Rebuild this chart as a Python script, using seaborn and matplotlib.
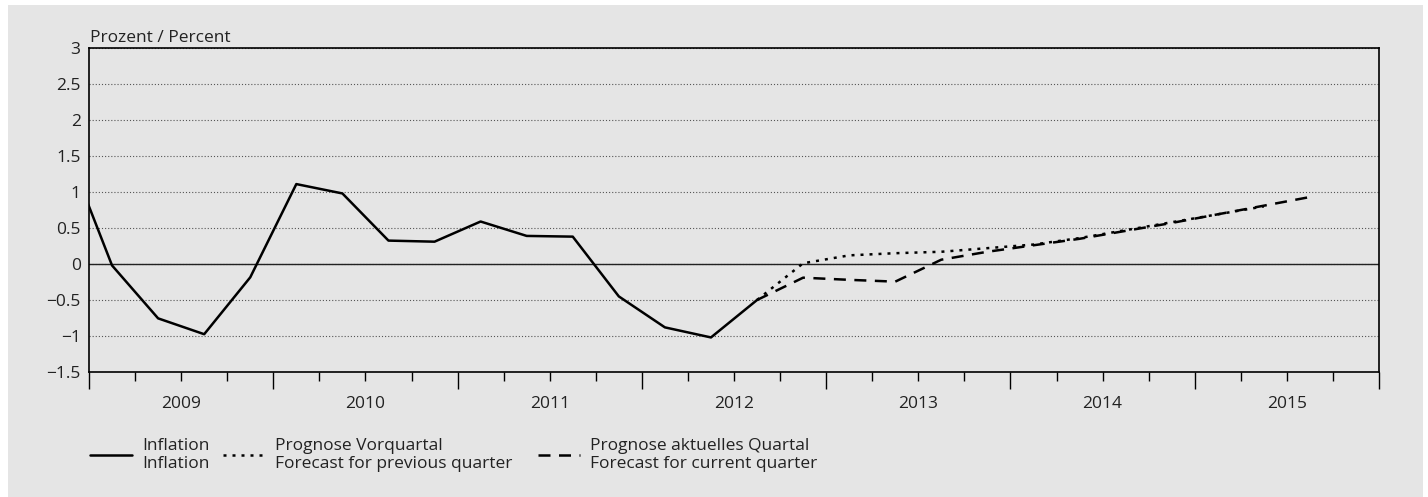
# Inflation chart with two forecast paths (quarterly, percent)
import numpy as np
import pandas as pd
import matplotlib
matplotlib.use("Agg")
import matplotlib.pyplot as plt
from matplotlib.patches import Rectangle
import seaborn as sns

# quarterly values
infl_start = "2008Q4"
infl_values = [1.62, -0.02, -0.755, -0.975, -0.185, 1.11, 0.98, 0.325, 0.31,
               0.59, 0.39, 0.38, -0.45, -0.88, -1.02, -0.5]

prev_start = "2012Q3"
prev_values = [-0.5, 0.01, 0.12, 0.15, 0.17, 0.22, 0.27, 0.36, 0.47, 0.58, 0.69, 0.80]

curr_start = "2012Q3"
curr_values = [-0.5, -0.19, -0.22, -0.245, 0.06, 0.17, 0.26, 0.35, 0.46, 0.57,
               0.69, 0.81, 0.93]

years = [2009, 2010, 2011, 2012, 2013, 2014, 2015]
y_ticks = [3, 2.5, 2, 1.5, 1, 0.5, 0, -0.5, -1, -1.5]

labels = ["Inflation\nInflation",
          "Prognose Vorquartal\nForecast for previous quarter",
          "Prognose aktuelles Quartal\nForecast for current quarter"]


def quarter_frame(start, values):
    # place each quarter at its middle on a year axis
    p = pd.period_range(start=start, periods=len(values), freq="Q")
    return pd.DataFrame({"pos": p.year + (p.quarter - 0.5) / 4, "value": values})


df_infl = quarter_frame(infl_start, infl_values)
df_prev = quarter_frame(prev_start, prev_values)
df_curr = quarter_frame(curr_start, curr_values)

sns.set_theme(style="white")
plt.rcParams["font.family"] = ["Open Sans", "DejaVu Sans"]
plt.rcParams["axes.unicode_minus"] = True

bg = "#e5e5e5"
txt = "#222222"
fs = 12.5
fig = plt.figure(figsize=(14.28, 4.97), dpi=100, facecolor="white")
fig.patches.append(Rectangle((8 / 1428, 0), (1423 - 8) / 1428, 492 / 497,
                             transform=fig.transFigure, facecolor=bg,
                             edgecolor="none", zorder=-10))
ax = fig.add_axes([89 / 1428, 1 - 372 / 497, (1379 - 89) / 1428, 324 / 497])
ax.set_facecolor(bg)

# grid and zero line
ax.set_yticks(y_ticks)
ax.set_yticklabels([("%g" % v).replace("-", "\u2212") for v in y_ticks])
ax.grid(axis="y", color="#555555", linestyle=(0, (1, 1.8)), linewidth=0.8)
ax.grid(axis="x", visible=False)
ax.axhline(0, color="#222222", linewidth=1.0, zorder=2)

# series
sns.lineplot(data=df_infl, x="pos", y="value", ax=ax, color="black",
             linewidth=1.8, label=labels[0], sort=False, estimator=None, zorder=5)
sns.lineplot(data=df_prev, x="pos", y="value", ax=ax, color="black",
             linewidth=1.8, linestyle=(0, (1.2, 2.4)), label=labels[1],
             sort=False, estimator=None, zorder=4)
sns.lineplot(data=df_curr, x="pos", y="value", ax=ax, color="black",
             linewidth=1.8, linestyle=(0, (4.8, 3.4)), label=labels[2],
             sort=False, estimator=None, zorder=4)

handles, leg_labels = ax.get_legend_handles_labels()
if ax.get_legend() is not None:
    ax.get_legend().remove()

ax.set_xlim(years[0], years[-1] + 1)
ax.set_ylim(-1.5, 3)
ax.set_xlabel("")
ax.set_ylabel("")

# x ticks: long at year boundaries, short at quarters
ax.xaxis.remove_overlapping_locs = False
ax.set_xticks(np.arange(years[0], years[-1] + 2))
ax.set_xticks([y + q / 4 for y in years for q in (1, 2, 3)], minor=True)
ax.tick_params(axis="x", which="both", bottom=True, top=False,
               direction="out", color="black", width=1, labelbottom=False)
ax.tick_params(axis="x", which="major", length=12.5)
ax.tick_params(axis="x", which="minor", length=6.5)
ax.tick_params(axis="y", length=0, pad=6, labelsize=fs, labelcolor=txt)

for y in years:
    ax.text(y + 0.5, -0.099, str(y), transform=ax.get_xaxis_transform(),
            ha="center", va="center", fontsize=fs, color=txt)

for s in ax.spines.values():
    s.set_visible(True)
    s.set_color("black")
    s.set_linewidth(1.2)

ax.text(0.001, 1.006, "Prozent / Percent", transform=ax.transAxes,
        ha="left", va="bottom", fontsize=fs, color=txt)

# one legend block per series, placed like the reference
leg_x = [90, 223, 538]
for h, lab, x in zip(handles, leg_labels, leg_x):
    leg = fig.legend([h], [lab], loc="center left",
                     bbox_to_anchor=(x / 1428, 1 - 455 / 497), frameon=False,
                     fontsize=fs, handlelength=2.42, handletextpad=0.58,
                     borderpad=0, borderaxespad=0, labelcolor=txt)
    for t in leg.get_texts():
        t.set_linespacing(1.1)

fig.savefig("out.png", dpi=100, facecolor="white")
